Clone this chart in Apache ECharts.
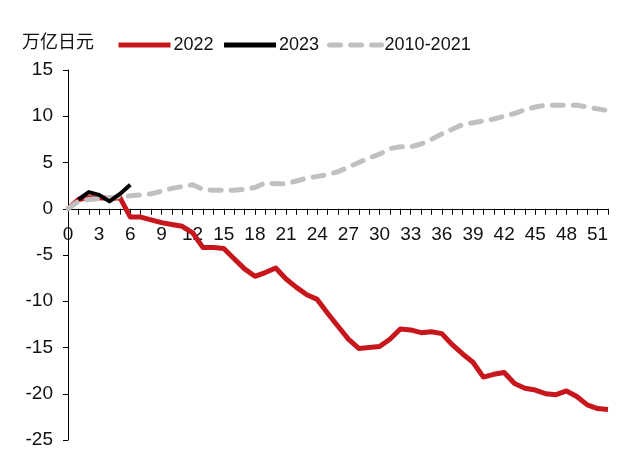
<!DOCTYPE html>
<html>
<head>
<meta charset="utf-8">
<script src="https://cdn.jsdelivr.net/npm/echarts@6/dist/echarts.min.js"></script>
<style>
html,body{margin:0;padding:0;background:#fff;}
#chart{width:640px;height:469px;}
</style>
</head>
<body>
<div id="chart"></div>
<script>
var weeks = [];
for (var i = 0; i <= 52; i++) weeks.push(String(i));

var s2022 = [0, 1.0, 1.2, 1.2, 1.1, 1.2, -0.9, -0.9, -1.2, -1.5, -1.7, -1.9, -2.6, -4.2, -4.2, -4.3,
  -5.4, -6.5, -7.3, -6.9, -6.4, -7.6, -8.5, -9.3, -9.8, -11.3, -12.7, -14.1, -15.1, -15.0, -14.9,
  -14.1, -13.0, -13.1, -13.4, -13.3, -13.5, -14.7, -15.7, -16.6, -18.2, -17.9, -17.7, -18.9, -19.4,
  -19.6, -20.0, -20.1, -19.7, -20.3, -21.2, -21.6, -21.7];

var s2023 = [null, 1.0, 1.8, 1.5, 0.8, 1.6, 2.6];

var s2010_2021 = [0, 0.8, 1.0, 1.1, 1.2, 1.3, 1.4, 1.5, 1.6, 1.9, 2.2, 2.4, 2.6, 2.1, 2.0, 2.0, 2.0,
  2.1, 2.3, 2.8, 2.7, 2.7, 3.0, 3.3, 3.5, 3.7, 4.0, 4.5, 5.0, 5.5, 5.9, 6.5, 6.7, 6.7, 7.0, 7.5,
  8.1, 8.6, 9.1, 9.3, 9.5, 9.7, 10.0, 10.3, 10.7, 11.0, 11.2, 11.2, 11.2, 11.2, 11.0, 10.8, 10.6];

var seriesNames = ['2022', '2023', '2010-2021'];
var unitLabel = '万亿日元';

var yMin = -25, yMax = 15;
var gridTop = 70, gridBottom = 29, chartH = 469;
var plotH = chartH - gridTop - gridBottom;
// move the category axis up to the value 0 line
var zeroOffset = -plotH * (0 - yMin) / (yMax - yMin);

var chart = echarts.init(document.getElementById('chart'), null, {renderer: 'canvas'});
var font = '"Liberation Sans", Arial, sans-serif';
chart.setOption({
  animation: false,
  backgroundColor: '#fff',
  textStyle: {fontFamily: font},
  graphic: [{
    type: 'text', left: 22, top: 32,
    style: {text: unitLabel, font: '18px "Noto Sans CJK SC", sans-serif', fill: '#111'}
  }],
  legend: {
    data: seriesNames,
    left: 111, top: 31,
    itemWidth: 52, itemHeight: 14, itemGap: 8,
    itemStyle: {opacity: 0},
    lineStyle: {width: 5},
    textStyle: {fontSize: 18, color: '#111', fontFamily: font, padding: [0, 0, 0, -2]}
  },
  grid: {left: 68, right: 32, top: gridTop, bottom: gridBottom, containLabel: false},
  xAxis: {
    type: 'category', data: weeks, boundaryGap: false,
    position: 'bottom', offset: zeroOffset,
    axisLine: {onZero: false, lineStyle: {color: '#000', width: 1}},
    axisTick: {show: true, interval: 0, length: 6, lineStyle: {color: '#000'}},
    axisLabel: {interval: 2, fontSize: 19, color: '#111', margin: 17, fontFamily: font},
    splitLine: {show: false}
  },
  yAxis: {
    type: 'value', min: yMin, max: yMax, interval: 5,
    axisLine: {show: true, lineStyle: {color: '#000', width: 1}},
    axisTick: {show: true, length: 5, lineStyle: {color: '#000'}},
    axisLabel: {fontSize: 19, color: '#111', margin: 15, fontFamily: font},
    splitLine: {show: false}
  },
  series: [
    {name: seriesNames[0], type: 'line', data: s2022, symbol: 'none', z: 2,
     lineStyle: {color: '#C8161D', width: 5, join: 'round'}, itemStyle: {color: '#C8161D'}},
    {name: seriesNames[2], type: 'line', data: s2010_2021, symbol: 'none', z: 3,
     lineStyle: {color: '#C0C0C0', width: 5, type: [11, 10], cap: 'round', join: 'round'}, itemStyle: {color: '#C0C0C0'}},
    {name: seriesNames[1], type: 'line', data: s2023, symbol: 'none', z: 4, connectNulls: false,
     lineStyle: {color: '#000', width: 4, join: 'round'}, itemStyle: {color: '#000'}}
  ]
});
</script>
</body>
</html>
